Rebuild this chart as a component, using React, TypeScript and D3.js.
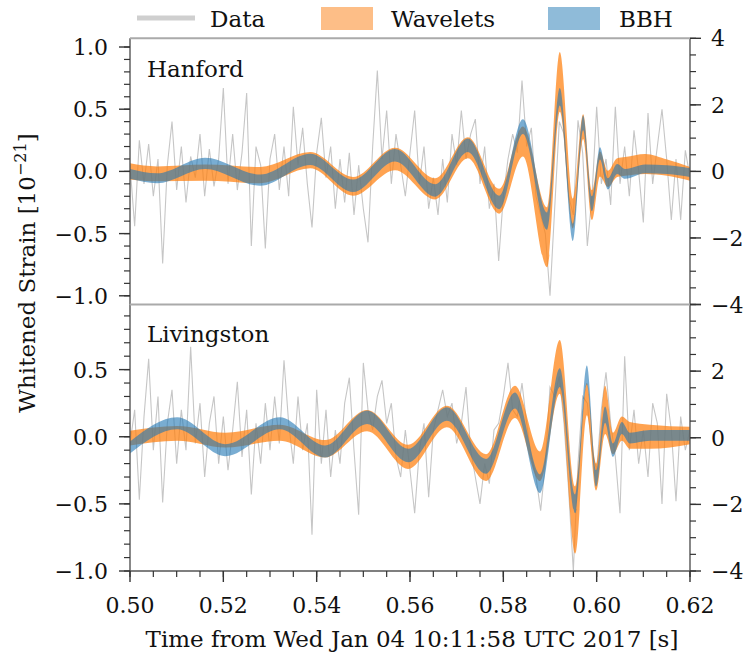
import React from "react";
import * as d3 from "d3";

// ---------- DATA ----------
const sampleStart = 0.5;
const sampleStep = 0.001;

const hanfordData = [
  0.05, -0.44, 0.25, -0.1, 0.22, -0.2, 0.1, -0.74, 0.05, 0.4,
  -0.15, 0.2, -0.25, 0.12, -0.05, 0.3, -0.2, 0.18, -0.12, 0.1,
  0.67, -0.1, 0.3, -0.15, 0.15, 0.63, -0.6, 0.2, 0.05, -0.62,
  0.1, 0.3, -0.15, 0.2, -0.2, 0.52, 0.05, 0.35, -0.1, -0.45,
  0.15, 0.43, -0.05, 0.2, -0.3, 0.1, -0.25, 0.15, -0.35, 0.05,
  -0.3, -0.57, 0.2, 0.81, 0.1, 0.49, -0.1, 0.3, 0.05, -0.2,
  0.15, 0.49, -0.1, 0.2, -0.3, -0.05, -0.35, 0.1, -0.25, 0.3,
  0.05, 0.49, 0.1, 0.3, 0.42, -0.1, 0.2, -0.3, -0.1, -0.72,
  -0.2, 0.1, 0.3, 0.15, 0.73, 0.2, 0.35, -0.2, -0.35, -0.5,
  -1.0, -0.3, 0.4, 0.3, -0.2, -0.35, 0.41, 0.15, -0.6, -0.2,
  0.52, -0.1, 0.1, -0.27, 0.52, -0.1, 0.2, -0.2, 0.33, 0.0,
  -0.41, 0.47, -0.1, 0.2, 0.5, 0.1, -0.39, 0.1, -0.39, 0.17,
  -0.05,
];

const livingstonData = [
  -0.05, 0.2, -0.47, 0.15, 0.58, -0.1, 0.3, -0.49, 0.1, 0.35,
  -0.2, 0.2, -0.1, 0.67, -0.05, 0.25, -0.3, 0.1, 0.3, -0.2,
  0.15, -0.25, 0.05, 0.41, -0.15, 0.2, -0.43, 0.1, -0.2, 0.25,
  -0.1, 0.3, -0.05, 0.57, 0.1, -0.2, 0.3, -0.1, 0.1, -0.73,
  0.35, -0.2, 0.2, -0.3, 0.05, -0.2, 0.25, 0.44, -0.1, -0.58,
  0.55, 0.2, 0.05, 0.3, 0.42, 0.1, 0.25, -0.15, -0.3, 0.05,
  -0.25, -0.57, -0.1, 0.1, -0.45, 0.05, 0.2, 0.35, 0.15, 0.25,
  -0.05, 0.1, 0.37, -0.1, -0.3, -0.5, -0.2, -0.35, 0.05, 0.1,
  0.3, 0.55, 0.2, 0.15, 0.4, 0.1, -0.15, -0.3, -0.55, -0.2,
  0.37, 0.3, 0.45, 0.1, -0.4, -1.0, -0.2, 0.3, 0.25, -0.1,
  -0.25, 0.2, 0.48, 0.1, -0.15, -0.57, 0.6, -0.1, 0.2, -0.2,
  0.05, -0.3, 0.25, 0.1, -0.5, 0.32, 0.05, -0.48, 0.15, -0.1,
  0.05,
];

const hanfordKnotT = [
  0.5, 0.5058, 0.5161, 0.5279, 0.5386, 0.5478, 0.5568, 0.5654, 0.5724, 0.5791,
  0.5842, 0.5894, 0.5921, 0.5949, 0.5971, 0.599, 0.6007, 0.6024, 0.6044, 0.6061,
  0.6104, 0.6151, 0.62,
];
const hanfordBBHCenter = [
  -0.02, -0.055, 0.065, -0.07, 0.097, -0.115, 0.13, -0.153, 0.21, -0.25,
  0.36, -0.4, 0.6, -0.49, 0.39, -0.26, 0.145, -0.1, 0.02, -0.02,
  0.02, 0.015, -0.01,
];
const hanfordBBHHalf = [
  0.04, 0.04, 0.045, 0.045, 0.045, 0.05, 0.05, 0.05, 0.055, 0.055,
  0.06, 0.07, 0.07, 0.07, 0.06, 0.06, 0.05, 0.045, 0.04, 0.04,
  0.035, 0.035, 0.035,
];
const hanfordWavCenter = [
  0.0, -0.02, -0.01, -0.03, 0.09, -0.12, 0.1, -0.14, 0.19, -0.24,
  0.24, -0.53, 0.72, -0.34, 0.36, -0.27, 0.06, -0.06, 0.03, 0.04,
  0.06, 0.03, -0.02,
];
const hanfordWavHalf = [
  0.065, 0.06, 0.065, 0.065, 0.065, 0.075, 0.09, 0.085, 0.085, 0.1,
  0.12, 0.24, 0.24, 0.12, 0.1, 0.12, 0.1, 0.065, 0.075, 0.075,
  0.08, 0.065, 0.055,
];

const livingstonKnotT = [
  0.5, 0.5101, 0.5204, 0.5321, 0.5418, 0.5508, 0.5596, 0.5679, 0.5763, 0.5825,
  0.5879, 0.5921, 0.5954, 0.5979, 0.5999, 0.6018, 0.6035, 0.6054, 0.6071, 0.6114,
  0.62,
];
const livingstonBBHCenter = [
  -0.08, 0.1, -0.1, 0.1, -0.11, 0.145, -0.14, 0.17, -0.22, 0.27,
  -0.35, 0.44, -0.5, 0.46, -0.31, 0.165, -0.1, 0.065, -0.01, 0.01,
  0.01,
];
const livingstonBBHHalf = [
  0.045, 0.045, 0.045, 0.045, 0.045, 0.05, 0.05, 0.05, 0.055, 0.06,
  0.07, 0.07, 0.07, 0.07, 0.06, 0.06, 0.05, 0.045, 0.04, 0.04,
  0.04,
];
const livingstonWavCenter = [
  -0.01, 0.025, -0.025, 0.03, -0.09, 0.12, -0.15, 0.15, -0.23, 0.26,
  -0.22, 0.52, -0.62, 0.28, -0.3, 0.2, -0.05, 0.06, 0.01, 0.0,
  0.01,
];
const livingstonWavHalf = [
  0.055, 0.055, 0.055, 0.06, 0.065, 0.08, 0.09, 0.08, 0.1, 0.12,
  0.11, 0.2, 0.25, 0.12, 0.1, 0.18, 0.08, 0.09, 0.1, 0.09,
  0.065,
];

const xTicks = [0.5, 0.52, 0.54, 0.56, 0.58, 0.6, 0.62];
const hanfordLeftTicks = [-1, -0.5, 0, 0.5, 1];
const livingstonLeftTicks = [-1, -0.5, 0, 0.5];
const rightTicks = [-4, -2, 0, 2, 4];

// ---------- LAYOUT ----------
const W = 747;
const H = 657;
const X0 = 130;
const X1 = 690;
const FONT = "'DejaVu Serif', serif";

const fmt = (v: number, d: number) => {
  const s = Math.abs(v).toFixed(d);
  return (v < 0 ? "\u2212" : "") + s;
};

type PanelDef = {
  id: string;
  name: string;
  top: number;
  bottom: number;
  dom: [number, number];
  leftTicks: number[];
  data: number[];
  kt: number[];
  bc: number[];
  bh: number[];
  wc: number[];
  wh: number[];
  labelY: number;
  rightLabels: number[];
};

const panels: PanelDef[] = [
  {
    id: "h",
    name: "Hanford",
    top: 38.3,
    bottom: 304.5,
    dom: [-1.07, 1.07],
    leftTicks: hanfordLeftTicks,
    data: hanfordData,
    kt: hanfordKnotT,
    bc: hanfordBBHCenter,
    bh: hanfordBBHHalf,
    wc: hanfordWavCenter,
    wh: hanfordWavHalf,
    labelY: 77,
    rightLabels: [4, 2, 0, -2, -4],
  },
  {
    id: "l",
    name: "Livingston",
    top: 304.5,
    bottom: 571,
    dom: [-1.0, 0.985],
    leftTicks: livingstonLeftTicks,
    data: livingstonData,
    kt: livingstonKnotT,
    bc: livingstonBBHCenter,
    bh: livingstonBBHHalf,
    wc: livingstonWavCenter,
    wh: livingstonWavHalf,
    labelY: 342,
    rightLabels: [2, 0, -2, -4],
  },
];

const x = d3.scaleLinear().domain([0.5, 0.62]).range([X0, X1]);

function Panel({ p }: { p: PanelDef }) {
  const y = d3.scaleLinear().domain(p.dom).range([p.bottom, p.top]);
  const yr = d3.scaleLinear().domain([-4, 4]).range([p.bottom, p.top]);
  const times = p.data.map((_, i) => sampleStart + i * sampleStep);
  const line = d3
    .line<number>()
    .x((_, i) => x(times[i]))
    .y((v) => y(v));
  const band = (c: number[], h: number[]) =>
    d3
      .area<number>()
      .curve(d3.curveMonotoneX)
      .x((t) => x(t))
      .y0((_, i) => y(c[i] - h[i]))
      .y1((_, i) => y(c[i] + h[i]))(p.kt) || "";

  const minorLeft = d3
    .range(Math.ceil(p.dom[0] * 10), Math.floor(p.dom[1] * 10) + 1)
    .map((k) => k / 10);
  const minorRight = d3.range(-8, 9).map((k) => k / 2);

  return (
    <g>
      <defs>
        <clipPath id={"clip-" + p.id}>
          <rect x={X0} y={p.top} width={X1 - X0} height={p.bottom - p.top} />
        </clipPath>
      </defs>
      <g clipPath={`url(#clip-${p.id})`}>
        <path d={line(p.data) || ""} fill="none" stroke="#c6c6c6" strokeWidth={1.1} />
        <path d={band(p.wc, p.wh)} fill="#ff7f0e" fillOpacity={0.72} />
        <path d={band(p.bc, p.bh)} fill="#1f77b4" fillOpacity={0.6} />
      </g>
      {/* spines */}
      <line x1={X0} x2={X0} y1={p.top} y2={p.bottom} stroke="#555" strokeWidth={1.4} />
      <line x1={X1} x2={X1} y1={p.top} y2={p.bottom} stroke="#555" strokeWidth={1.4} />
      <line x1={X0} x2={X1} y1={p.top} y2={p.top} stroke="#aaa" strokeWidth={2} />
      {/* left minor ticks */}
      {minorLeft.map((v) => (
        <line key={"ml" + v} x1={X0 - 6} x2={X0} y1={y(v)} y2={y(v)} stroke="#333" strokeWidth={1.2} />
      ))}
      {p.leftTicks.map((v) => (
        <g key={"L" + v}>
          <line x1={X0 - 11} x2={X0} y1={y(v)} y2={y(v)} stroke="#333" strokeWidth={1.4} />
          <text x={108} y={y(v) + 8} textAnchor="end" fontFamily={FONT} fontSize={22} fill="#111">
            {fmt(v, 1)}
          </text>
        </g>
      ))}
      {minorRight.map((v) => (
        <line key={"mr" + v} x1={X1} x2={X1 + 6} y1={yr(v)} y2={yr(v)} stroke="#333" strokeWidth={1.2} />
      ))}
      {rightTicks.map((v) => (
        <line key={"R" + v} x1={X1} x2={X1 + 11} y1={yr(v)} y2={yr(v)} stroke="#333" strokeWidth={1.4} />
      ))}
      {p.rightLabels.map((v) => (
        <text key={"RL" + v} x={711} y={yr(v) + 8} textAnchor="start" fontFamily={FONT} fontSize={22} fill="#111">
          {fmt(v, 0)}
        </text>
      ))}
      <text x={147} y={p.labelY} fontFamily={FONT} fontSize={23} fill="#111">
        {p.name}
      </text>
    </g>
  );
}

export default function App() {
  const bottom = panels[1].bottom;
  const minorX = d3.range(0, 25).map((k) => 0.5 + k * 0.005);
  return (
    <svg
      width={W}
      height={H}
      viewBox={`0 0 ${W} ${H}`}
      style={{ position: "absolute", left: 0, top: 0, background: "#fff" }}
    >
      <rect x={0} y={0} width={W} height={H} fill="#fff" />
      {panels.map((p) => (
        <Panel key={p.id} p={p} />
      ))}
      {/* bottom spine and x ticks */}
      <line x1={X0} x2={X1} y1={bottom} y2={bottom} stroke="#555" strokeWidth={1.4} />
      {minorX.map((t) => (
        <line key={"mx" + t} x1={x(t)} x2={x(t)} y1={bottom} y2={bottom + 6} stroke="#333" strokeWidth={1.2} />
      ))}
      {xTicks.map((t) => (
        <g key={"x" + t}>
          <line x1={x(t)} x2={x(t)} y1={bottom} y2={bottom + 11} stroke="#333" strokeWidth={1.4} />
          <text x={x(t)} y={613} textAnchor="middle" fontFamily={FONT} fontSize={22} fill="#111">
            {t.toFixed(2)}
          </text>
        </g>
      ))}
      <text x={412} y={647} textAnchor="middle" fontFamily={FONT} fontSize={23} fill="#111">
        Time from Wed Jan 04 10:11:58 UTC 2017 [s]
      </text>
      <text
        transform="translate(35,273) rotate(-90)"
        textAnchor="middle"
        fontFamily={FONT}
        fontSize={23}
        fill="#111"
      >
        Whitened Strain [10
        <tspan dy={-9} fontSize={16}>
          {"\u221221"}
        </tspan>
        <tspan dy={9}>]</tspan>
      </text>
      {/* legend */}
      <line x1={137} x2={195} y1={18} y2={18} stroke="#cfcfcf" strokeWidth={5} />
      <text x={210} y={27} fontFamily={FONT} fontSize={23} fill="#111">
        Data
      </text>
      <rect x={321} y={7} width={52} height={23} fill="#fdbe87" />
      <text x={391} y={27} fontFamily={FONT} fontSize={23} fill="#111">
        Wavelets
      </text>
      <rect x={548} y={7} width={52} height={23} fill="#8fbbd9" />
      <text x={619} y={27} fontFamily={FONT} fontSize={23} fill="#111">
        BBH
      </text>
    </svg>
  );
}
